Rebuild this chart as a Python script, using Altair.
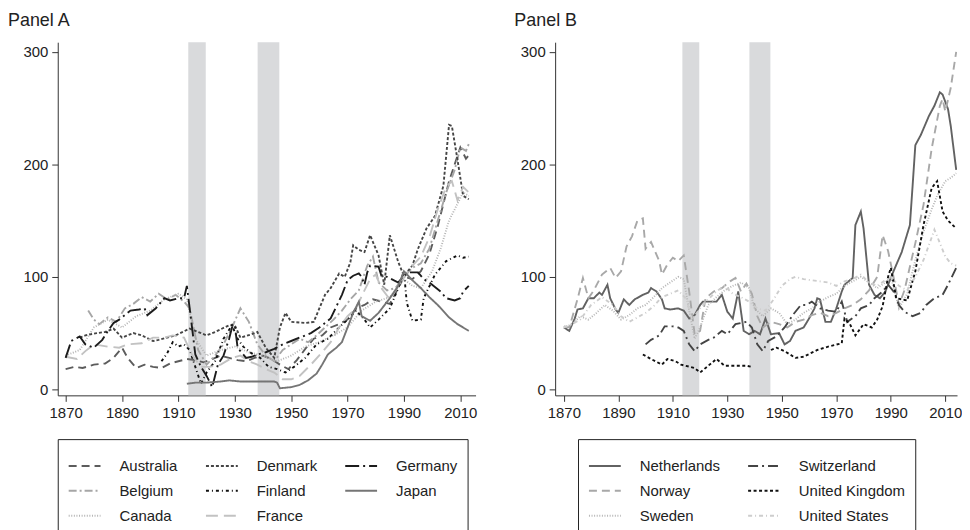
import altair as alt
import pandas as pd

FONT = "Liberation Sans"
H = 355
W_A = 420
W_B = 404
X_DOM_A = [1867.2, 2015.4]
X_DOM_B = [1866.8, 2014.3]
Y_DOM = [-5.3, 308.5]
X_TICKS = [1870, 1890, 1910, 1930, 1950, 1970, 1990, 2010]
Y_TICKS = [0, 100, 200, 300]

war_start = [1913.5, 1938.1]
war_end = [1919.7, 1945.8]

# ---------------- Panel A ----------------
australia = [(1870, 18), (1873, 20), (1876, 19), (1880, 22), (1884, 23), (1887, 28), (1890, 37), (1892, 28),
             (1895, 19), (1898, 22), (1901, 20), (1904, 19), (1907, 23), (1910, 25), (1913, 27), (1916, 26),
             (1919, 24), (1922, 27), (1925, 30), (1928, 28), (1931, 26), (1934, 25), (1937, 28), (1940, 30),
             (1943, 27), (1946, 22), (1949, 18), (1952, 26), (1955, 36), (1958, 45), (1961, 48), (1964, 55),
             (1967, 58), (1970, 62), (1973, 72), (1976, 75), (1979, 80), (1982, 78), (1985, 76), (1988, 90),
             (1990, 100), (1993, 98), (1996, 105), (1999, 120), (2002, 145), (2004, 165), (2006, 185),
             (2008, 200), (2010, 215), (2012, 205), (2013, 208)]
belgium = [(1878, 70), (1880, 62), (1882, 58), (1885, 64), (1888, 60), (1891, 72), (1894, 76), (1897, 82),
           (1900, 78), (1903, 85), (1906, 80), (1909, 84), (1912, 78), (1914, 72), (1917, 35), (1920, 22),
           (1923, 30), (1926, 40), (1929, 55), (1932, 72), (1935, 60), (1938, 40), (1941, 30), (1944, 25),
           (1947, 35), (1950, 40), (1953, 45), (1956, 42), (1959, 48), (1962, 55), (1965, 62), (1968, 70),
           (1971, 80), (1974, 88), (1977, 110), (1979, 118), (1981, 95), (1984, 88), (1987, 90), (1990, 100),
           (1993, 108), (1996, 112), (1999, 125), (2002, 150), (2005, 175), (2008, 195), (2010, 215),
           (2012, 212), (2013, 218)]
canada = [(1870, 30), (1875, 35), (1880, 55), (1885, 62), (1890, 55), (1895, 65), (1900, 70), (1905, 80),
          (1910, 85), (1913, 80), (1916, 45), (1920, 30), (1925, 35), (1930, 38), (1935, 33), (1940, 30),
          (1945, 25), (1950, 30), (1955, 38), (1960, 42), (1965, 48), (1970, 55), (1975, 70), (1980, 78),
          (1985, 82), (1990, 98), (1993, 92), (1996, 90), (2000, 105), (2003, 125), (2006, 150), (2009, 165),
          (2011, 175), (2013, 172)]
denmark = [(1875, 46), (1877, 48), (1881, 50), (1884, 51), (1887, 54), (1890, 46), (1894, 50), (1897, 48),
           (1901, 43), (1903, 44), (1906, 46), (1909, 48), (1914, 54), (1917, 51), (1920, 48), (1923, 51),
           (1928, 57), (1930, 57), (1932, 46), (1936, 49), (1938, 51), (1941, 37), (1944, 28), (1946, 55),
           (1948, 68), (1950, 60), (1955, 59), (1958, 60), (1962, 84), (1964, 90), (1967, 103), (1969, 100),
           (1971, 113), (1972, 128), (1974, 124), (1976, 122), (1978, 137), (1981, 119), (1983, 93),
           (1985, 137), (1988, 113), (1990, 101), (1993, 110), (1995, 125), (1998, 143), (2001, 154),
           (2004, 181), (2006, 235), (2007, 234), (2009, 204), (2011, 172), (2013, 169)]
finland = [(1904, 25), (1906, 32), (1908, 42), (1910, 38), (1912, 40), (1914, 35), (1916, 20), (1918, 5),
           (1920, 15), (1923, 25), (1926, 45), (1929, 57), (1931, 45), (1933, 38), (1936, 32), (1939, 28),
           (1942, 20), (1945, 18), (1948, 15), (1951, 20), (1955, 28), (1959, 40), (1963, 45), (1967, 55),
           (1970, 62), (1973, 70), (1976, 62), (1978, 55), (1981, 62), (1985, 72), (1988, 90), (1990, 105),
           (1991, 77), (1993, 61), (1996, 62), (1997, 81), (2001, 102), (2005, 114), (2009, 119), (2011, 117),
           (2013, 118)]
france = [(1870, 29), (1874, 27), (1877, 34), (1880, 40), (1885, 38), (1889, 37), (1892, 40), (1897, 41),
          (1901, 46), (1905, 46), (1908, 48), (1912, 46), (1915, 30), (1918, 20), (1921, 20), (1925, 22),
          (1929, 28), (1932, 30), (1935, 25), (1938, 22), (1941, 18), (1944, 15), (1947, 9), (1950, 9),
          (1953, 12), (1957, 22), (1961, 33), (1964, 42), (1967, 55), (1970, 65), (1973, 72), (1976, 88),
          (1978, 98), (1980, 102), (1982, 90), (1985, 80), (1988, 92), (1990, 100), (1993, 110), (1996, 118),
          (1999, 135), (2002, 160), (2005, 180), (2007, 185), (2009, 168), (2011, 180), (2013, 175)]
germany = [(1870, 28), (1872, 43), (1875, 47), (1877, 40), (1880, 37), (1883, 44), (1885, 52), (1887, 59),
           (1889, 62), (1893, 70), (1896, 71), (1898, 72), (1899, 66), (1902, 72), (1904, 78), (1905, 81),
           (1907, 79), (1910, 81), (1912, 81), (1913, 92), (1914, 72), (1916, 31), (1918, 20), (1920, 12),
           (1922, 2), (1924, 22), (1926, 30), (1928, 45), (1929, 55), (1930, 57), (1931, 37), (1934, 28),
           (1936, 29), (1938, 31), (1941, 33), (1944, 36), (1947, 40), (1950, 43), (1953, 46), (1957, 50),
           (1960, 55), (1964, 63), (1968, 84), (1970, 97), (1972, 101), (1974, 103), (1975, 100), (1976, 93),
           (1977, 104), (1978, 110), (1981, 109), (1982, 101), (1984, 100), (1988, 95), (1990, 101),
           (1992, 104), (1995, 104), (1997, 98), (1999, 95), (2003, 87), (2005, 81), (2008, 79), (2010, 81),
           (2011, 87), (2013, 92)]
japan = [(1913, 5), (1916, 6), (1920, 6), (1925, 7), (1928, 8), (1932, 7), (1936, 7), (1940, 7), (1944, 7),
         (1945, 6), (1946, 1), (1950, 2), (1953, 4), (1956, 8), (1959, 14), (1961, 22), (1963, 31), (1966, 37),
         (1968, 42), (1970, 55), (1972, 68), (1974, 78), (1975, 65), (1978, 61), (1981, 68), (1985, 81),
         (1988, 92), (1990, 105), (1993, 97), (1996, 90), (1999, 82), (2002, 75), (2006, 64), (2009, 58),
         (2013, 52)]

# ---------------- Panel B ----------------
netherlands = [(1870, 55), (1872, 52), (1874, 63), (1875, 71), (1877, 72), (1879, 81), (1881, 81), (1883, 86),
               (1884, 84), (1886, 93), (1887, 81), (1889, 71), (1890, 68), (1892, 80), (1894, 75), (1896, 80),
               (1899, 84), (1901, 86), (1902, 90), (1904, 87), (1906, 80), (1907, 72), (1909, 71), (1912, 72),
               (1914, 70), (1916, 63), (1918, 66), (1920, 75), (1921, 78), (1924, 78), (1926, 78), (1928, 84),
               (1930, 69), (1932, 63), (1934, 87), (1936, 52), (1938, 49), (1940, 52), (1942, 49), (1944, 63),
               (1946, 49), (1949, 50), (1951, 40), (1953, 43), (1955, 52), (1958, 55), (1960, 63), (1962, 72),
               (1963, 81), (1964, 80), (1966, 60), (1968, 60), (1970, 72), (1972, 87), (1973, 93), (1976, 99),
               (1977, 146), (1979, 158), (1980, 143), (1982, 93), (1984, 84), (1986, 81), (1988, 87),
               (1991, 105), (1994, 122), (1997, 146), (1998, 181), (1999, 217), (2001, 226), (2004, 243),
               (2006, 252), (2008, 264), (2009, 262), (2011, 249), (2012, 234), (2014, 195)]
norway = [(1870, 56), (1872, 55), (1875, 80), (1877, 99), (1879, 81), (1881, 88), (1884, 102), (1887, 108),
          (1889, 99), (1891, 105), (1893, 127), (1895, 136), (1897, 150), (1899, 152), (1900, 125), (1902, 131),
          (1905, 114), (1906, 102), (1908, 111), (1910, 117), (1912, 114), (1914, 119), (1916, 87), (1918, 49),
          (1920, 52), (1922, 81), (1925, 87), (1928, 90), (1931, 96), (1933, 99), (1935, 87), (1937, 94),
          (1939, 85), (1941, 65), (1943, 55), (1946, 60), (1949, 58), (1952, 55), (1955, 60), (1958, 62),
          (1961, 66), (1964, 68), (1967, 65), (1970, 68), (1973, 72), (1976, 75), (1979, 80), (1982, 88),
          (1985, 100), (1987, 137), (1989, 123), (1991, 100), (1993, 75), (1995, 88), (1999, 130),
          (2002, 164), (2005, 214), (2008, 252), (2009, 258), (2010, 247), (2012, 268), (2014, 300)]
sweden = [(1870, 55), (1873, 58), (1876, 65), (1879, 62), (1882, 68), (1885, 75), (1888, 70), (1891, 62),
          (1894, 66), (1897, 72), (1900, 75), (1903, 82), (1906, 90), (1909, 95), (1912, 100), (1914, 98),
          (1916, 70), (1918, 45), (1920, 55), (1923, 75), (1926, 82), (1929, 88), (1932, 92), (1935, 95),
          (1938, 90), (1940, 72), (1943, 65), (1946, 72), (1949, 68), (1952, 58), (1955, 62), (1958, 68),
          (1961, 72), (1964, 78), (1967, 82), (1970, 85), (1973, 92), (1976, 96), (1979, 100), (1982, 95),
          (1985, 90), (1988, 95), (1990, 100), (1993, 72), (1996, 85), (1999, 115), (2002, 140), (2005, 160),
          (2007, 172), (2010, 185), (2012, 188), (2014, 192)]
switzerland = [(1900, 40), (1902, 44), (1905, 48), (1907, 56), (1910, 56), (1912, 55), (1914, 52), (1916, 40),
               (1918, 34), (1920, 40), (1923, 44), (1925, 46), (1928, 52), (1930, 49), (1933, 58), (1937, 60),
               (1939, 55), (1941, 40), (1943, 34), (1945, 43), (1948, 47), (1951, 55), (1954, 66), (1957, 75),
               (1959, 75), (1961, 78), (1964, 72), (1967, 70), (1970, 69), (1972, 78), (1974, 60), (1977, 65),
               (1979, 72), (1982, 75), (1984, 81), (1987, 87), (1989, 93), (1991, 87), (1993, 75), (1995, 69),
               (1998, 65), (2001, 68), (2003, 75), (2006, 81), (2009, 84), (2011, 93), (2014, 108)]
uk_before = [(1899, 31), (1902, 27), (1906, 22), (1908, 27), (1911, 25), (1913, 22), (1918, 19), (1920, 15),
             (1923, 21), (1926, 27), (1929, 21), (1932, 21), (1937, 21), (1939, 20)]
uk_after = [(1946, 35), (1948, 37), (1951, 34), (1955, 28), (1958, 29), (1963, 35), (1967, 38), (1972, 41),
            (1973, 63), (1975, 58), (1977, 48), (1980, 58), (1983, 55), (1985, 62), (1987, 74), (1989, 100),
            (1990, 108), (1992, 81), (1996, 79), (1999, 105), (2002, 146), (2005, 179), (2007, 185),
            (2009, 158), (2011, 150), (2014, 143)]
usa = [(1870, 55), (1873, 58), (1876, 62), (1880, 75), (1884, 82), (1888, 75), (1891, 65), (1894, 60),
       (1897, 64), (1900, 68), (1903, 74), (1906, 82), (1909, 85), (1912, 88), (1915, 80), (1917, 62),
       (1920, 72), (1923, 80), (1926, 87), (1929, 92), (1932, 85), (1935, 82), (1938, 78), (1941, 72),
       (1944, 70), (1947, 80), (1950, 92), (1953, 98), (1955, 100), (1958, 98), (1961, 97), (1964, 96),
       (1967, 95), (1970, 92), (1973, 96), (1976, 98), (1979, 102), (1982, 95), (1985, 92), (1988, 97),
       (1990, 100), (1993, 92), (1996, 88), (1999, 100), (2002, 115), (2005, 135), (2006, 142), (2008, 130),
       (2010, 118), (2012, 112), (2014, 110)]

series_a = {"Australia": [australia], "Belgium": [belgium], "Canada": [canada], "Denmark": [denmark],
            "Finland": [finland], "France": [france], "Germany": [germany], "Japan": [japan]}
series_b = {"Netherlands": [netherlands], "Norway": [norway], "Sweden": [sweden],
            "Switzerland": [switzerland], "United Kingdom": [uk_before, uk_after], "United States": [usa]}

# legend entries flow down the columns
order_a = ["Australia", "Belgium", "Canada", "Denmark", "Finland", "France", "Germany", "Japan"]
colors_a = {"Australia": "#5c5c5c", "Belgium": "#a6a6a6", "Canada": "#b4b4b4", "Denmark": "#454545",
            "Finland": "#111111", "France": "#c2c2c2", "Germany": "#1c1c1c", "Japan": "#757575"}
dashes_a = {"Australia": [8, 5], "Belgium": [8, 3, 2, 3], "Canada": [1, 1.6], "Denmark": [3, 2],
            "Finland": [3, 3, 1, 3], "France": [12, 6], "Germany": [14, 4, 2, 4], "Japan": [1, 0]}

order_b = ["Netherlands", "Norway", "Sweden", "Switzerland", "United Kingdom", "United States"]
colors_b = {"Netherlands": "#626262", "Norway": "#a8a8a8", "Sweden": "#b6b6b6", "Switzerland": "#444444",
            "United Kingdom": "#111111", "United States": "#cdcdcd"}
dashes_b = {"Netherlands": [1, 0], "Norway": [8, 5], "Sweden": [1, 1.6], "Switzerland": [10, 4, 2, 4],
            "United Kingdom": [3, 2.5], "United States": [4, 3, 1, 3]}


def frame(series):
    rows = []
    for name, segs in series.items():
        for si, seg in enumerate(segs):
            for yr, v in seg:
                rows.append({"country": name, "seg": f"{name}-{si}", "year": yr, "value": v})
    return pd.DataFrame(rows)


wars = pd.DataFrame({"year": war_start, "year_end": war_end})


def panel(series, order, colors, dashes, title, width, xdom, title_dx, legend_x, ncols):
    df = frame(series)
    xscale = alt.Scale(domain=xdom, nice=False, zero=False)
    yscale = alt.Scale(domain=Y_DOM, nice=False, zero=False)
    xaxis = alt.Axis(values=X_TICKS, format="d", title=None, grid=False, labelFlush=False)
    yaxis = alt.Axis(values=Y_TICKS, title=None, grid=False, minExtent=50)
    bands = alt.Chart(wars).mark_rect(color="#d9dadc").encode(
        x=alt.X("year:Q", scale=xscale, axis=xaxis),
        x2="year_end:Q",
        y=alt.value(0),
        y2=alt.value(H),
    )
    legend = alt.Legend(
        title=None, orient="none", legendX=legend_x, legendY=H + 44, columns=ncols,
        symbolType="stroke", symbolSize=1024, symbolStrokeWidth=2, labelFontSize=15,
        labelFont=FONT, labelColor="#222222", strokeColor="#222222", padding=10,
        rowPadding=0, columnPadding=24, labelOffset=18,
    )
    lines = alt.Chart(df).mark_line(strokeWidth=1.9, clip=True).encode(
        x=alt.X("year:Q", scale=xscale, axis=xaxis),
        y=alt.Y("value:Q", scale=yscale, axis=yaxis),
        color=alt.Color("country:N", sort=order,
                        scale=alt.Scale(domain=order, range=[colors[c] for c in order]),
                        legend=legend),
        strokeDash=alt.StrokeDash("country:N", sort=order,
                                  scale=alt.Scale(domain=order, range=[dashes[c] for c in order]),
                                  legend=legend),
        detail="seg:N",
        order="year:Q",
    )
    return alt.layer(bands, lines).properties(
        width=width, height=H,
        title=alt.TitleParams(text=title, anchor="start", frame="bounds", fontSize=18,
                              fontWeight="normal", font=FONT, color="#222222", offset=12, dx=title_dx),
    )


chart = alt.hconcat(
    panel(series_a, order_a, colors_a, dashes_a, "Panel A", W_A, X_DOM_A, 0, 0, 3),
    panel(series_b, order_b, colors_b, dashes_b, "Panel B", W_B, X_DOM_B, 9, 23, 2),
    spacing=28,
).resolve_scale(
    color="independent", strokeDash="independent",
).resolve_legend(
    color="independent", strokeDash="independent",
).properties(
    padding={"left": 0, "top": 3, "right": 0, "bottom": 0},
).configure(
    font=FONT,
).configure_view(
    stroke=None,
).configure_axis(
    labelFont=FONT, labelFontSize=15, labelColor="#222222", domainColor="#333333",
    tickColor="#333333", tickSize=6, labelPadding=4, domainWidth=1,
)

chart.save("out.html", embed_options={"renderer": "svg", "actions": False})
